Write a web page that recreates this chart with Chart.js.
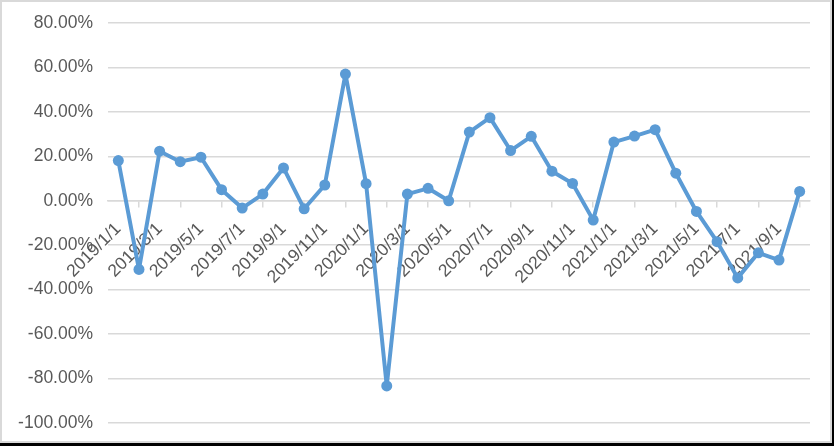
<!DOCTYPE html>
<html lang="en">
<head>
    <meta charset="UTF-8">
    <title>Monthly change</title>
    <script src="https://cdn.jsdelivr.net/npm/chart.js"></script>
    <style>
        html, body { margin: 0; padding: 0; background: #000; }
        #frame {
            width: 832px; height: 443px; box-sizing: border-box;
            border: 2px solid #d9d9d9; background: #fff;
        }
    </style>
</head>
<body>
    <div id="frame"><canvas id="chart" width="828" height="439"></canvas></div>
    <script>
        // months 2019/1/1 .. 2021/10/1
        const months = [
            '2019/1/1', '2019/2/1', '2019/3/1', '2019/4/1', '2019/5/1', '2019/6/1',
            '2019/7/1', '2019/8/1', '2019/9/1', '2019/10/1', '2019/11/1', '2019/12/1',
            '2020/1/1', '2020/2/1', '2020/3/1', '2020/4/1', '2020/5/1', '2020/6/1',
            '2020/7/1', '2020/8/1', '2020/9/1', '2020/10/1', '2020/11/1', '2020/12/1',
            '2021/1/1', '2021/2/1', '2021/3/1', '2021/4/1', '2021/5/1', '2021/6/1',
            '2021/7/1', '2021/8/1', '2021/9/1', '2021/10/1'
        ];
        // percent values
        const changePct = [
            18.1, -30.9, 22.3, 17.6, 19.6, 5.0, -3.3, 3.0, 14.8, -3.6, 7.1, 57.0,
            7.7, -83.3, 3.0, 5.6, 0.0, 30.9, 37.4, 22.6, 29.0, 13.3, 7.8, -8.7,
            26.4, 29.1, 32.0, 12.4, -4.8, -18.4, -34.7, -23.4, -26.7, 4.2
        ];

        const font = { family: '"Liberation Sans", Arial, sans-serif', size: 17.5 };

        new Chart(document.getElementById('chart'), {
            type: 'line',
            data: {
                labels: months,
                datasets: [{
                    data: changePct,
                    borderColor: '#5b9bd5',
                    backgroundColor: '#5b9bd5',
                    borderWidth: 4,
                    borderJoinStyle: 'round',
                    borderCapStyle: 'round',
                    pointRadius: 5.5,
                    pointBorderWidth: 0,
                    tension: 0
                }]
            },
            options: {
                responsive: false,
                animation: false,
                layout: { padding: { top: 21, bottom: 18, right: 20, left: 0 } },
                plugins: { legend: { display: false }, tooltip: { enabled: false } },
                scales: {
                    x: {
                        position: { y: 0 },
                        offset: true,
                        afterFit: s => { s.paddingTop = 0; s.paddingBottom = 0; s.paddingLeft = 0; s.paddingRight = 0; },
                        grid: {
                            offset: true,
                            drawOnChartArea: false,
                            tickLength: 6,
                            color: '#d9d9d9',
                            lineWidth: 1.5
                        },
                        border: { color: '#d9d9d9', width: 1.5 },
                        ticks: {
                            autoSkip: false,
                            minRotation: 45,
                            maxRotation: 45,
                            padding: 12,
                            color: '#595959',
                            font: font,
                            callback: (v, i) => i % 2 === 0 ? months[i] : null
                        }
                    },
                    y: {
                        min: -100,
                        max: 80,
                        afterFit: s => { s.width = 106; s.paddingTop = 0; s.paddingBottom = 0; },
                        border: { display: false },
                        grid: { color: '#d9d9d9', lineWidth: 1.5, drawTicks: false },
                        ticks: {
                            stepSize: 20,
                            padding: 15,
                            color: '#595959',
                            font: font,
                            callback: v => v.toFixed(2) + '%'
                        }
                    }
                }
            }
        });
    </script>
</body>
</html>
